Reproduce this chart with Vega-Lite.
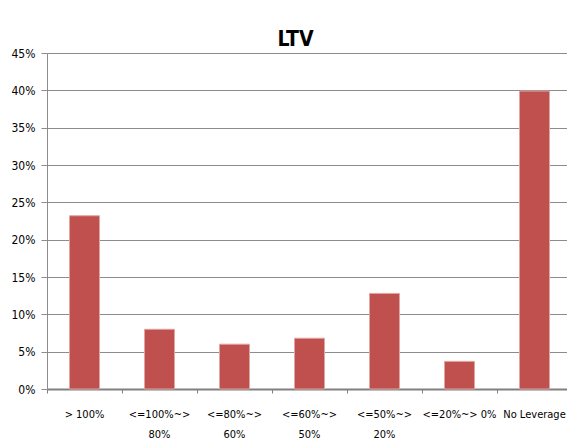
{
  "$schema": "https://vega.github.io/schema/vega-lite/v6.json",
  "autosize": {"type": "none"},
  "padding": {"left": 47, "top": 53, "right": -5, "bottom": 58},
  "width": 525,
  "height": 336,
  "background": "white",
  "title": {
    "text": "LTV",
    "font": "DejaVu Sans Condensed, Roboto, sans-serif",
    "fontSize": 21,
    "fontWeight": "bold",
    "color": "#000000",
    "anchor": "middle",
    "dx": -14,
    "offset": -3
  },
  "data": {
    "values": [
      {"category": "> 100%", "share": 0.232},
      {"category": "<=100%~> 80%", "share": 0.080},
      {"category": "<=80%~> 60%", "share": 0.060},
      {"category": "<=60%~> 50%", "share": 0.068},
      {"category": "<=50%~> 20%", "share": 0.128},
      {"category": "<=20%~> 0%", "share": 0.037},
      {"category": "No Leverage", "share": 0.399}
    ]
  },
  "mark": {"type": "bar", "color": "#C0504D", "stroke": "#DFA5A3", "strokeWidth": 1, "width": {"band": 0.4}},
  "encoding": {
    "x": {
      "field": "category",
      "type": "nominal",
      "sort": null,
      "scale": {"paddingInner": 0, "paddingOuter": 0},
      "axis": {
        "title": null,
        "labelAngle": 0,
        "bandPosition": 0,
        "grid": false,
        "domainColor": "#808080",
        "domainWidth": 2,
        "tickColor": "#808080",
        "tickSize": 4,
        "labelPadding": 21,
        "labelFont": "DejaVu Sans Condensed, Roboto, sans-serif",
        "labelFontSize": 11,
        "labelColor": "#000000",
        "labelLineHeight": 20,
        "labelBaseline": "middle",
        "labelLimit": 0,
        "labelOverlap": false,
        "labelExpr": "(datum.value == '> 100%' || datum.value == '<=20%~> 0%' || datum.value == 'No Leverage') ? datum.value : split(datum.value, ' ')"
      }
    },
    "y": {
      "field": "share",
      "type": "quantitative",
      "scale": {"domain": [0, 0.45], "nice": false},
      "axis": {
        "title": null,
        "values": [0, 0.05, 0.1, 0.15, 0.2, 0.25, 0.3, 0.35, 0.4, 0.45],
        "format": ".0%",
        "grid": true,
        "gridColor": "#8c8c8c",
        "gridWidth": 1,
        "domainColor": "#8c8c8c",
        "tickColor": "#8c8c8c",
        "tickSize": 6,
        "labelPadding": 6,
        "labelFont": "DejaVu Sans Condensed, Roboto, sans-serif",
        "labelFontSize": 12,
        "labelColor": "#000000"
      }
    }
  },
  "config": {"view": {"stroke": null}}
}
